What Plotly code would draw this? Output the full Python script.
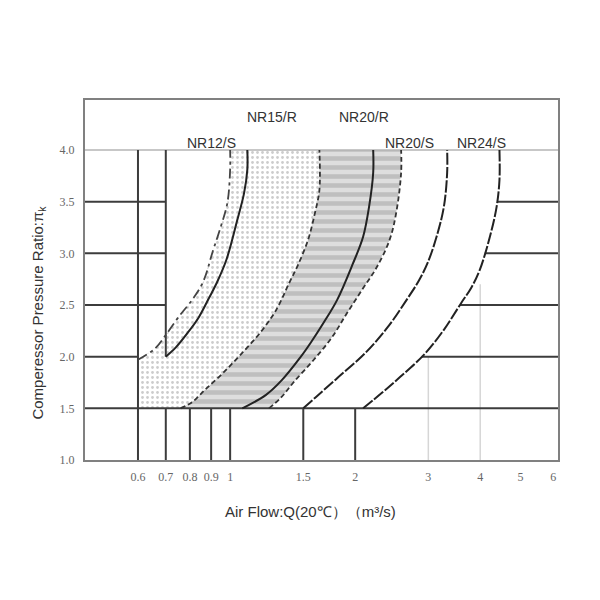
import numpy as np
import plotly.graph_objects as go

# ---------------- data ----------------
x_ticks = [0.6, 0.7, 0.8, 0.9, 1, 1.5, 2, 3, 4, 5, 6]
x_tick_text = ["0.6", "0.7", "0.8", "0.9", "1", "1.5", "2", "3", "4", "5", "6"]
y_ticks = [1.0, 1.5, 2.0, 2.5, 3.0, 3.5, 4.0]
y_tick_text = ["1.0", "1.5", "2.0", "2.5", "3.0", "3.5", "4.0"]

curve_labels = ["NR12/S", "NR15/R", "NR20/R", "NR20/S", "NR24/S"]

# NR12/S left boundary (dash-dot)
l1_q = [0.60, 0.66, 0.70, 0.75, 0.81, 0.86, 0.91, 0.95, 0.985, 1.00, 1.00]
l1_p = [1.97, 2.08, 2.21, 2.38, 2.55, 2.72, 3.03, 3.26, 3.49, 3.81, 4.00]
# NR12/S right boundary (solid)
s1_q = [0.70, 0.74, 0.79, 0.84, 0.89, 0.93, 0.98, 1.04, 1.08, 1.10, 1.10]
s1_p = [2.00, 2.09, 2.23, 2.38, 2.57, 2.72, 2.94, 3.32, 3.58, 3.81, 4.00]
# NR15/R right boundary (dashed)
r1_q = [0.76, 0.81, 0.87, 0.96, 1.06, 1.18, 1.29, 1.39, 1.45, 1.54, 1.60, 1.64, 1.64]
r1_p = [1.50, 1.56, 1.68, 1.84, 2.02, 2.23, 2.45, 2.72, 2.87, 3.13, 3.39, 3.61, 4.00]
# NR20/R middle line (solid)
s2_q = [1.07, 1.22, 1.33, 1.48, 1.56, 1.68, 1.81, 1.97, 2.09, 2.16, 2.21, 2.21]
s2_p = [1.50, 1.63, 1.77, 2.00, 2.13, 2.33, 2.55, 2.89, 3.16, 3.45, 3.78, 4.00]
# NR20/R right boundary (dashed)
r2_q = [1.24, 1.33, 1.42, 1.59, 1.76, 1.91, 2.08, 2.25, 2.42, 2.51, 2.58, 2.58]
r2_p = [1.50, 1.61, 1.75, 1.97, 2.19, 2.42, 2.65, 2.86, 3.13, 3.39, 3.78, 4.00]
# NR20/S line
s3_q = [1.50, 1.61, 1.82, 2.12, 2.40, 2.66, 2.85, 2.99, 3.14, 3.27, 3.33, 3.33]
s3_p = [1.50, 1.61, 1.80, 2.04, 2.29, 2.55, 2.74, 2.91, 3.16, 3.45, 3.78, 4.00]
# NR24/S line
s4_q = [2.09, 2.32, 2.56, 2.93, 3.27, 3.60, 3.81, 3.99, 4.22, 4.38, 4.45, 4.45]
s4_p = [1.50, 1.65, 1.80, 2.02, 2.26, 2.52, 2.67, 2.84, 3.16, 3.45, 3.71, 4.00]

# ---------------- axes ----------------
x_range_log = [-0.3494, 0.7893]
y_range = [1.0, 4.484]
x_lo, x_hi = 10 ** x_range_log[0], 10 ** x_range_log[1]

fig = go.Figure()

# stippled region (NR15/R)
stip_x = [0.6, 0.6] + l1_q + r1_q[::-1] + [0.6]
stip_y = [1.5, 1.97] + l1_p + r1_p[::-1] + [1.5]
fig.add_trace(go.Scatter(
    x=stip_x, y=stip_y, mode="lines", fill="toself", line=dict(width=0),
    fillcolor="rgba(0,0,0,0)",
    fillpattern=dict(shape=".", fgcolor="#9a9a9a", bgcolor="white", size=5, solidity=0.24),
    hoverinfo="skip"))

# grey striped region (NR20/R)
grey_x = r1_q + r2_q[::-1]
grey_y = r1_p + r2_p[::-1]
fig.add_trace(go.Scatter(
    x=grey_x, y=grey_y, mode="lines", fill="toself", line=dict(width=0),
    fillcolor="rgba(0,0,0,0)",
    fillpattern=dict(shape="-", fgcolor="#a0a0a0", bgcolor="#dedede", size=9, solidity=0.5),
    hoverinfo="skip"))

# ---------------- grid segments ----------------
def seg_trace(xs, ys, color, width):
    return go.Scatter(x=xs, y=ys, mode="lines", line=dict(color=color, width=width),
                      hoverinfo="skip")

s4_log = np.log10(s4_q)
def s4_at(p):
    return 10 ** np.interp(p, s4_p, s4_log)

gx, gy = [], []
gx += [0.6, 0.6, None]; gy += [1.0, 4.0, None]
gx += [0.7, 0.7, None]; gy += [1.0, 1.5, None]
gx += [0.7, 0.7, None]; gy += [2.0, 4.0, None]
for q in [0.8, 0.9, 1.0, 1.5, 2.0]:
    gx += [q, q, None]; gy += [1.0, 1.5, None]
gx += [x_lo, x_hi, None]; gy += [1.5, 1.5, None]
gx += [x_lo, 0.6, None]; gy += [2.0, 2.0, None]
for p in [2.5, 3.0, 3.5]:
    gx += [x_lo, 0.7, None]; gy += [p, p, None]
for p in [2.0, 2.5, 3.0, 3.5]:
    gx += [s4_at(p), x_hi, None]; gy += [p, p, None]

fig.add_trace(seg_trace([x_lo, x_hi], [4.0, 4.0], "#b4b4b4", 1.5))
fig.add_trace(seg_trace([3, 3, None, 4, 4], [1.0, 2.0, None, 1.0, 2.7], "#d6d6d6", 1.5))
fig.add_trace(seg_trace(gx, gy, "#3c3c3c", 2))

# ---------------- curves ----------------
def curve(xs, ys, dash, color="#222222", width=2):
    return go.Scatter(x=xs, y=ys, mode="lines",
                      line=dict(color=color, width=width, dash=dash, shape="spline", smoothing=1.0),
                      hoverinfo="skip")

fig.add_trace(curve(l1_q, l1_p, "10px,4px,3px,4px", "#444444", 1.8))
fig.add_trace(curve(s1_q, s1_p, "solid"))
fig.add_trace(curve(r1_q, r1_p, "5px,3px", "#333333", 1.8))
fig.add_trace(curve(s2_q, s2_p, "solid"))
fig.add_trace(curve(r2_q, r2_p, "5px,3px", "#333333", 1.8))
fig.add_trace(curve(s3_q, s3_p, "12px,2px"))
fig.add_trace(curve(s4_q, s4_p, "12px,2px"))

# ---------------- labels ----------------
label_pos = [(0.2664, 0.8806), (0.3953, 0.9528), (0.5899, 0.9528), (0.685, 0.8806), (0.8393, 0.8806)]
for name, (px, py) in zip(curve_labels, label_pos):
    fig.add_annotation(text=name, x=px, y=py, xref="paper", yref="paper", showarrow=False,
                       xanchor="center", yanchor="middle",
                       font=dict(family="Liberation Sans", size=14, color="#333333"))

fig.add_annotation(text="Comperessor Pressure Ratio:π<sub>k</sub>", x=-0.099, y=0.41,
                   xref="paper", yref="paper", textangle=-90, showarrow=False,
                   xanchor="center", yanchor="middle",
                   font=dict(family="Liberation Sans", size=15, color="#333333"))
fig.add_annotation(text="Air Flow:Q(20℃）（m³/s)", x=0.476, y=-0.144,
                   xref="paper", yref="paper", showarrow=False,
                   xanchor="center", yanchor="middle",
                   font=dict(family="Liberation Sans", size=15, color="#333333"))

fig.update_layout(
    width=600, height=600,
    margin=dict(l=77, r=50, t=92, b=148),
    paper_bgcolor="white", plot_bgcolor="white",
    showlegend=False,
    xaxis=dict(type="log", range=x_range_log, tickvals=x_ticks, ticktext=x_tick_text,
               showgrid=False, zeroline=False, showline=True, mirror=True,
               linecolor="#808080", linewidth=2, ticks="", ticklabelstandoff=5,
               tickfont=dict(family="Liberation Serif", size=12, color="#666666")),
    yaxis=dict(range=y_range, tickvals=y_ticks, ticktext=y_tick_text,
               showgrid=False, zeroline=False, showline=True, mirror=True,
               linecolor="#808080", linewidth=2, ticks="", ticklabelstandoff=6,
               tickfont=dict(family="Liberation Serif", size=12, color="#666666")),
)

fig.write_html("out.html")
